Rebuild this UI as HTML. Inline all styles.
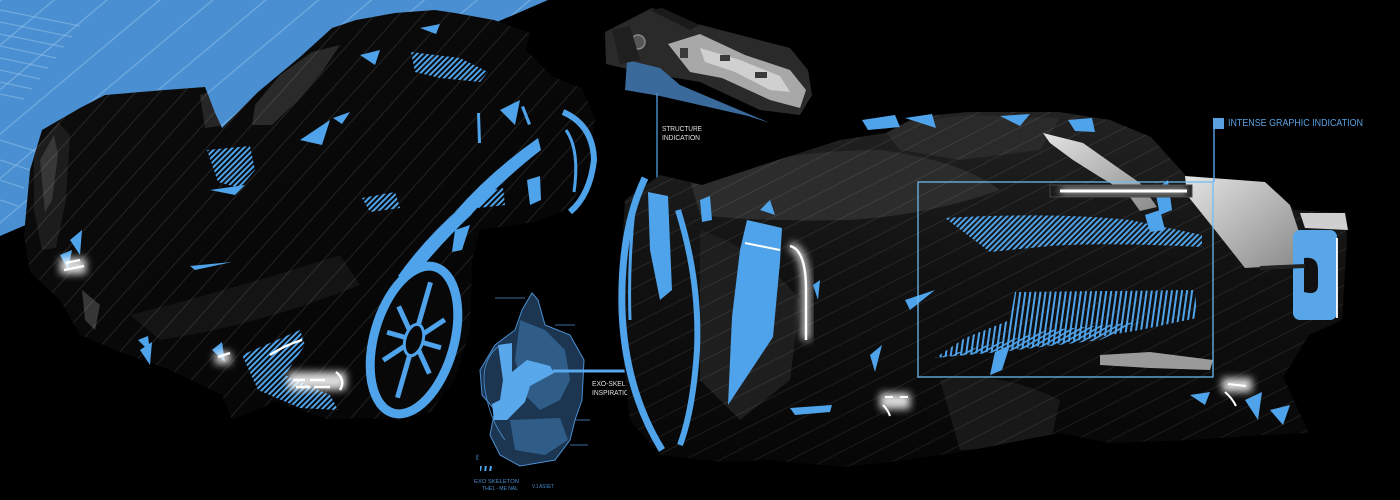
<!DOCTYPE html>
<html><head><meta charset="utf-8"><style>
html,body{margin:0;padding:0;background:#000;}
svg{display:block;}
text{font-family:"Liberation Sans",sans-serif;}
</style></head><body>
<svg width="1400" height="500" viewBox="0 0 1400 500" xmlns="http://www.w3.org/2000/svg">
<defs>
<pattern id="bgStripe" width="34" height="34" patternUnits="userSpaceOnUse" patternTransform="rotate(-40)">
<rect x="0" y="0" width="34" height="1.4" fill="#8cbde8" opacity="0.55"/>
</pattern>
<pattern id="carStripeL" width="18" height="18" patternUnits="userSpaceOnUse" patternTransform="rotate(-48)">
<rect x="0" y="0" width="18" height="0.9" fill="#ffffff" opacity="0.12"/>
</pattern>
<pattern id="carStripeR" width="16" height="16" patternUnits="userSpaceOnUse" patternTransform="rotate(-27)">
<rect x="0" y="0" width="16" height="0.9" fill="#ffffff" opacity="0.09"/>
</pattern>
<pattern id="hatch" width="4" height="4" patternUnits="userSpaceOnUse" patternTransform="rotate(45)">
<rect x="0" y="0" width="2" height="4" fill="#4fa3ea"/>
</pattern>
<pattern id="vhatch" width="5" height="5" patternUnits="userSpaceOnUse" patternTransform="rotate(8)">
<rect x="0" y="0" width="2" height="5" fill="#4fa3ea"/>
</pattern>
<pattern id="dhatch" width="4" height="4" patternUnits="userSpaceOnUse" patternTransform="rotate(-30)">
<rect x="0" y="0" width="4" height="1.6" fill="#4fa3ea"/>
</pattern>
<linearGradient id="lBody" x1="0" y1="0" x2="1" y2="1">
<stop offset="0" stop-color="#0e0e0e"/><stop offset="0.5" stop-color="#080808"/><stop offset="1" stop-color="#040404"/>
</linearGradient>
<linearGradient id="rBody" x1="0" y1="0" x2="0" y2="1">
<stop offset="0" stop-color="#222222"/><stop offset="0.45" stop-color="#111111"/><stop offset="1" stop-color="#060606"/>
</linearGradient>
<linearGradient id="lightPanel" x1="0" y1="0" x2="1" y2="1">
<stop offset="0" stop-color="#e4e4e4"/><stop offset="1" stop-color="#8a8a8a"/>
</linearGradient>
<filter id="glow" x="-50%" y="-50%" width="200%" height="200%"><feGaussianBlur stdDeviation="4"/></filter>
<clipPath id="clipL"><path d="M30,170 L42,130 L80,108 L105,95 L165,90 L205,87 L215,113 L222,128 L258,92 L300,57 L332,28 L356,20 L395,13 L435,10 L455,13 L494,20 L530,33 L526,50 L553,77 L582,88 L595,118 L590,168 L570,208 L535,222 L480,230 L472,260 L470,330 L455,380 L430,412 L400,420 L360,418 L330,420 L300,410 L275,402 L232,420 L222,395 L170,370 L120,352 L80,335 L60,300 L30,272 L24,235 Z"/></clipPath>
<clipPath id="clipR"><path d="M625,200 L660,175 L702,185 L778,160 L840,140 L886,133 L916,117 L967,112 L1059,112 L1110,120 L1151,137 L1187,177 L1243,180 L1278,193 L1294,210 L1345,213 L1347,240 L1342,320 L1309,335 L1283,377 L1309,433 L1263,435 L1192,440 L1110,443 L1059,433 L972,450 L906,460 L845,467 L768,460 L722,462 L660,455 L630,420 L620,330 L622,250 Z"/></clipPath>
</defs>

<rect width="1400" height="500" fill="#000"/>

<!-- blue background triangle -->
<polygon points="0,0 548,0 0,236" fill="#4a8fd1"/>
<polygon points="0,0 548,0 0,236" fill="url(#bgStripe)"/>
<g stroke="#8fc0ea" stroke-width="1.2" opacity="0.55">
<line x1="0" y1="10" x2="80" y2="26"/><line x1="0" y1="22" x2="72" y2="37"/><line x1="0" y1="34" x2="64" y2="47"/>
<line x1="0" y1="46" x2="56" y2="58"/><line x1="0" y1="58" x2="48" y2="68"/><line x1="0" y1="70" x2="40" y2="79"/>
<line x1="0" y1="82" x2="32" y2="89"/><line x1="0" y1="94" x2="24" y2="99"/><line x1="0" y1="140" x2="38" y2="152"/>
<line x1="0" y1="160" x2="30" y2="170"/><line x1="0" y1="180" x2="24" y2="188"/><line x1="0" y1="200" x2="18" y2="206"/>
</g>

<!-- ============ LEFT CAR ============ -->
<path d="M30,170 L42,130 L80,108 L105,95 L165,90 L205,87 L215,113 L222,128 L258,92 L300,57 L332,28 L356,20 L395,13 L435,10 L455,13 L494,20 L530,33 L526,50 L553,77 L582,88 L595,118 L590,168 L570,208 L535,222 L480,230 L472,260 L470,330 L455,380 L430,412 L400,420 L360,418 L330,420 L300,410 L275,402 L232,420 L222,395 L170,370 L120,352 L80,335 L60,300 L30,272 L24,235 Z" fill="url(#lBody)"/>
<g clip-path="url(#clipL)">
<path d="M255,105 L280,75 L312,52 L340,45 L322,72 L298,100 L272,125 L252,125 Z" fill="#2e2e2e" opacity="0.9"/>
<path d="M200,95 L215,90 L225,125 L205,128 Z" fill="#262626"/>
<path d="M34,150 L58,122 L70,135 L66,200 L56,248 L42,250 L34,210 Z" fill="#1c1c1c"/>
<path d="M40,160 L54,135 L58,155 L52,200 L45,212 Z" fill="#4a4a4a" opacity="0.6"/>
<path d="M82,290 L100,305 L95,330 L85,320 Z" fill="#555" opacity="0.6"/>
<path d="M130,315 Q230,290 340,255 L360,285 Q260,325 160,340 Z" fill="#141414"/>
<rect x="0" y="0" width="620" height="500" fill="url(#carStripeL)"/>
</g>
<!-- blue fender strips -->
<path d="M455,212 Q490,172 538,138 L541,150 Q502,180 468,218 Z" fill="#4fa3ea"/>
<path d="M398,276 Q425,238 462,206 L472,214 Q438,246 410,282 Z" fill="#4fa3ea"/>
<path d="M527,180 L540,176 L541,200 L530,205 Z" fill="#4fa3ea"/>
<path d="M477,113 L480,113 L481,143 L478,143 Z" fill="#4fa3ea"/>
<path d="M521,107 L524,106 L531,124 L528,125 Z" fill="#4fa3ea"/>
<path d="M455,230 L470,225 L462,250 L452,252 Z" fill="#4fa3ea"/>
<!-- rear wheel left car -->
<g transform="rotate(16 414 340)">
<ellipse cx="414" cy="340" rx="40" ry="76" fill="#080808" stroke="#4fa3ea" stroke-width="9"/>
<path d="M414,280 L414,400 M390,312 L438,368 M390,368 L438,312 M386,340 L442,340" stroke="#4fa3ea" stroke-width="5"/>
<ellipse cx="414" cy="340" rx="9" ry="16" fill="#080808" stroke="#4fa3ea" stroke-width="3"/>
</g>
<!-- front right wheel left car -->
<path d="M563,112 Q593,125 594,160 Q590,195 570,212" fill="none" stroke="#4fa3ea" stroke-width="6"/>
<path d="M566,130 Q580,150 574,192" fill="none" stroke="#4fa3ea" stroke-width="3"/>
<!-- hatches -->
<path d="M411,52 L460,58 L488,72 L480,82 L440,78 L415,72 Z" fill="url(#hatch)"/>
<path d="M207,150 L250,146 L255,170 L240,188 L218,182 Z" fill="url(#hatch)"/>
<path d="M242,355 L300,330 L305,345 L285,375 L330,395 L338,410 L300,408 L258,390 Z" fill="url(#hatch)"/>
<path d="M473,195 L503,188 L505,205 L478,208 Z" fill="url(#hatch)"/>
<path d="M362,198 L395,192 L400,208 L370,212 Z" fill="url(#hatch)"/>
<!-- small blue shards -->
<g fill="#4fa3ea">
<polygon points="360,55 380,50 375,65"/><polygon points="333,118 350,112 342,124"/>
<polygon points="210,190 245,185 235,195"/><polygon points="190,266 232,262 195,270"/>
<polygon points="140,350 152,342 150,365"/><polygon points="500,110 520,100 515,125"/>
<polygon points="420,28 440,24 436,34"/><polygon points="300,140 330,120 322,145"/>
<polygon points="70,240 82,230 80,255"/><polygon points="212,350 222,342 225,362"/>
<polygon points="60,255 72,250 68,270"/><polygon points="138,340 148,336 150,352"/>
</g>
<!-- left car lights -->
<g filter="url(#glow)" opacity="0.85">
<rect x="60" y="258" width="26" height="16" fill="#ffffff"/>
<rect x="288" y="372" width="58" height="18" fill="#ffffff"/>
<rect x="215" y="352" width="16" height="12" fill="#ffffff"/>
</g>
<g stroke="#ffffff" stroke-width="2.4" fill="none">
<path d="M64,270 L84,266 M66,263 L80,260"/>
<path d="M293,380 L305,380 M310,380 L325,380 M296,387 L310,387 M314,387 L330,387"/>
<path d="M336,372 Q346,380 340,390"/>
<path d="M270,355 Q285,345 302,340"/>
<path d="M218,357 L230,353"/>
</g>

<!-- ============ CHASSIS (top center) ============ -->
<polygon points="605,32 652,8 690,22 790,48 808,70 812,95 800,115 760,110 700,82 640,72 606,64" fill="#2a2a2a"/>
<polygon points="650,10 662,8 700,25 690,30" fill="#1a1a1a"/>
<polygon points="668,44 700,34 745,55 790,70 806,90 800,108 770,100 722,78 690,72" fill="#a8a8a8"/>
<polygon points="700,48 740,60 780,76 790,92 770,90 735,72 705,62" fill="#d0d0d0"/>
<g fill="#3a3a3a"><rect x="720" y="55" width="10" height="6"/><rect x="755" y="72" width="12" height="6"/><rect x="680" y="48" width="8" height="10"/></g>
<circle cx="638" cy="42" r="7" fill="#555" stroke="#888" stroke-width="1.5"/>
<polygon points="627,60 660,68 680,85 770,123 748,116 660,96 625,90" fill="#3a6a9c"/>
<polygon points="612,30 630,26 640,60 620,64" fill="#1f1f1f"/>

<!-- STRUCTURE INDICATION -->
<line x1="657" y1="93" x2="657" y2="205" stroke="#4a8fd1" stroke-width="1.4"/>
<text x="662" y="131" font-size="7" fill="#e0e0e0" textLength="40" lengthAdjust="spacingAndGlyphs">STRUCTURE</text>
<text x="662" y="140" font-size="7" fill="#e0e0e0" textLength="38" lengthAdjust="spacingAndGlyphs">INDICATION</text>

<!-- ============ EXO-SKELETON SKETCH ============ -->
<path d="M532,293 L538,300 L545,325 L570,335 L584,360 L582,400 L575,420 L570,440 L555,460 L520,466 L500,455 L490,435 L495,410 L482,395 L480,370 L495,345 L515,330 L522,310 Z" fill="#1c3550" stroke="#4a8fd1" stroke-width="1"/>
<path d="M520,320 L545,330 L565,350 L570,380 L560,400 L540,410 L525,395 L515,360 Z" fill="#2f5d88"/>
<path d="M510,420 L560,418 L568,440 L545,455 L515,450 Z" fill="#2f5d88"/>
<path d="M498,345 L512,343 L512,372 L527,360 L550,366 L554,373 L530,386 L525,402 L507,420 L494,420 L492,404 L500,400 L503,380 Z" fill="#5aa8ec"/>
<g stroke="#4a8fd1" stroke-width="0.8" fill="none">
<path d="M500,345 Q480,360 485,390 Q490,420 505,440"/>
<line x1="495" y1="298" x2="525" y2="298"/><line x1="555" y1="325" x2="575" y2="325"/>
<line x1="575" y1="420" x2="590" y2="420"/><line x1="570" y1="445" x2="588" y2="445"/>
</g>
<line x1="553" y1="371" x2="662" y2="371" stroke="#5aa8ec" stroke-width="3"/>
<text x="592" y="386" font-size="7" fill="#e0e0e0" textLength="52" lengthAdjust="spacingAndGlyphs">EXO-SKELETON</text>
<text x="592" y="395" font-size="7" fill="#e0e0e0" textLength="42" lengthAdjust="spacingAndGlyphs">INSPIRATION</text>
<g fill="#4a8fd1" font-size="5.5">
<rect x="480" y="466" width="12" height="5" fill="url(#vhatch)"/>
<text x="474" y="483" textLength="45" lengthAdjust="spacingAndGlyphs">EXO SKELETON</text>
<text x="482" y="490" textLength="36" lengthAdjust="spacingAndGlyphs">THE1 - ME NAL</text>
<text x="532" y="488" textLength="22" lengthAdjust="spacingAndGlyphs">V.1 ASSET</text>
<text x="476" y="460" font-size="8">&#x2113;</text>
</g>

<!-- ============ RIGHT CAR ============ -->
<path d="M625,200 L660,175 L702,185 L778,160 L840,140 L886,133 L916,117 L967,112 L1059,112 L1110,120 L1151,137 L1187,177 L1243,180 L1278,193 L1294,210 L1345,213 L1347,240 L1342,320 L1309,335 L1283,377 L1309,433 L1263,435 L1192,440 L1110,443 L1059,433 L972,450 L906,460 L845,467 L768,460 L722,462 L660,455 L630,420 L620,330 L622,250 Z" fill="url(#rBody)"/>
<g clip-path="url(#clipR)">
<path d="M690,180 Q780,150 880,150 Q960,160 1000,190 Q930,215 850,220 Q760,222 700,215 Z" fill="#2c2c2c"/>
<path d="M880,125 L970,115 L1060,118 L1040,150 L960,160 L900,150 Z" fill="#2a2a2a"/>
<path d="M700,230 Q760,250 800,300 L790,380 L740,420 L700,380 Z" fill="#1e1e1e"/>
<path d="M940,380 Q1000,370 1060,400 L1050,445 L960,450 Z" fill="#181818"/>
<rect x="600" y="100" width="760" height="380" fill="url(#carStripeR)"/>
</g>
<!-- light panels -->
<polygon points="1043,133 1083,143 1117,167 1140,183 1157,207 1140,211 1127,193 1100,177 1073,160 1050,143" fill="url(#lightPanel)"/>
<polygon points="1185,176 1265,182 1290,205 1300,235 1295,265 1245,268 1215,230 1187,195" fill="url(#lightPanel)"/>
<polygon points="1100,355 1150,352 1213,360 1210,370 1150,368 1100,365" fill="#9a9a9a"/>
<polygon points="1300,213 1345,213 1348,230 1305,228" fill="#cfcfcf"/>
<!-- roof blue bits -->
<g fill="#4fa3ea">
<polygon points="862,120 895,115 900,127 868,130"/><polygon points="905,118 932,114 936,128"/>
<polygon points="1000,116 1030,114 1020,126"/><polygon points="1068,120 1092,118 1095,132 1075,131"/>
<polygon points="1155,190 1168,180 1172,210 1160,215"/><polygon points="1145,215 1160,210 1165,230 1150,232"/>
</g>
<!-- left wheel of right car -->
<path d="M645,178 Q620,230 622,310 Q625,390 662,450" fill="none" stroke="#4fa3ea" stroke-width="7"/>
<path d="M635,200 Q628,260 630,320" fill="none" stroke="#4fa3ea" stroke-width="3"/>
<path d="M678,210 Q700,280 697,350 Q693,410 680,445" fill="none" stroke="#4fa3ea" stroke-width="6"/>
<polygon points="648,192 668,196 672,290 660,300 650,250" fill="#4fa3ea"/>
<polygon points="700,200 710,196 712,220 702,222" fill="#4fa3ea"/>
<!-- blue side panel + light -->
<polygon points="747,220 782,228 780,262 773,337 728,405 732,317 740,250" fill="#4fa3ea"/>
<g filter="url(#glow)"><path d="M790,246 Q806,250 806,290 L806,340" stroke="#ffffff" stroke-width="8" fill="none" opacity="0.8"/></g>
<path d="M790,246 Q806,250 806,290 L806,340" stroke="#ffffff" stroke-width="2.4" fill="none"/>
<line x1="745" y1="243" x2="780" y2="250" stroke="#ffffff" stroke-width="2"/>
<!-- misc blue shards right car -->
<g fill="#4fa3ea">
<polygon points="905,300 935,290 910,310"/><polygon points="790,408 832,405 830,412 795,415"/>
<polygon points="870,355 882,345 875,372"/><polygon points="760,210 770,200 775,215"/>
<polygon points="995,352 1010,345 1002,370 990,375"/><polygon points="813,285 820,280 818,300"/>
<polygon points="1245,400 1262,392 1258,420"/><polygon points="1190,395 1210,392 1205,405"/>
<polygon points="1270,410 1290,405 1283,425"/>
</g>
<!-- hatched areas -->
<path d="M945,218 Q1050,212 1130,220 L1202,235 L1202,247 Q1100,242 1050,246 L990,252 Z" fill="url(#hatch)"/>
<path d="M1015,292 L1195,290 L1197,318 L1140,330 L1050,345 L935,358 L965,338 L1010,320 Z" fill="url(#vhatch)"/>
<path d="M935,358 L1050,330 L1140,322 L1100,340 L1000,352 Z" fill="url(#dhatch)"/>
<!-- light bar -->
<rect x="1050" y="185" width="142" height="12" fill="#1a1a1a" stroke="#444" stroke-width="1"/>
<g filter="url(#glow)"><rect x="1060" y="188" width="127" height="6" fill="#ffffff" opacity="0.7"/></g>
<rect x="1060" y="189.5" width="127" height="3" fill="#ffffff"/>
<!-- rear light right -->
<rect x="1293" y="230" width="44" height="90" rx="7" fill="#58a6e8"/>
<path d="M1304,258 Q1318,256 1318,270 L1318,285 Q1318,296 1304,292 Z" fill="#111"/>
<line x1="1260" y1="268" x2="1305" y2="266" stroke="#222" stroke-width="4"/>
<g filter="url(#glow)"><line x1="1337" y1="238" x2="1337" y2="318" stroke="#fff" stroke-width="5" opacity="0.7"/></g>
<line x1="1337" y1="238" x2="1337" y2="318" stroke="#fff" stroke-width="1.8"/>
<!-- bottom lights right car -->
<g filter="url(#glow)" opacity="0.85">
<rect x="880" y="393" width="30" height="16" fill="#fff"/>
<rect x="1222" y="378" width="30" height="14" fill="#fff"/>
</g>
<g stroke="#fff" stroke-width="2" fill="none">
<path d="M885,397 L893,397 M900,397 L908,397 M883,405 Q888,410 890,416"/>
<path d="M1228,384 L1246,386 M1225,392 Q1232,398 1236,406"/>
</g>

<!-- INTENSE GRAPHIC INDICATION box -->
<rect x="918" y="182" width="295" height="195" fill="none" stroke="#6cbdf2" stroke-width="1.4" opacity="0.9"/>
<line x1="1214" y1="118" x2="1214" y2="182" stroke="#5aa8ec" stroke-width="1.4"/>
<rect x="1213" y="118" width="11" height="11" fill="#5aa0e0"/>
<text x="1228" y="126" font-size="10" fill="#5aa0e0" textLength="135" lengthAdjust="spacingAndGlyphs">INTENSE GRAPHIC INDICATION</text>
</svg>
</body></html>
